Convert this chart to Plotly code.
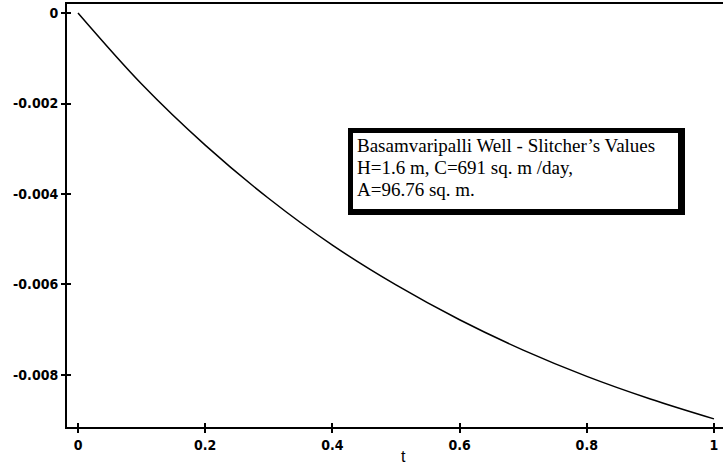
import plotly.graph_objects as go

# ---- data ----
t_values = [0.0, 0.1, 0.2, 0.3, 0.4, 0.5, 0.6, 0.7, 0.8, 0.9, 1.0]
y_values = [0.0, -0.00157, -0.00292, -0.00410, -0.00513, -0.00601,
            -0.00678, -0.00745, -0.00803, -0.00853, -0.00897]
x_ticks = [0, 0.2, 0.4, 0.6, 0.8, 1]
x_tick_labels = ["0", "0.2", "0.4", "0.6", "0.8", "1"]
y_ticks = [0, -0.002, -0.004, -0.006, -0.008]
y_tick_labels = ["0", "-0.002", "-0.004", "-0.006", "-0.008"]
box_lines = ["Basamvaripalli Well - Slitcher\u2019s Values",
             "H=1.6 m, C=691 sq. m /day,",
             "A=96.76 sq. m."]
x_title = "t"

# ---- layout geometry (pixels) ----
W, H = 723, 465
ML, MR, MT, MB = 67, 0, 4, 38
PW, PH = W - ML - MR, H - MT - MB
XR = [-0.0173, 1.0142]
YR = [-0.00915, 0.0002]

def px(x):
    return (x - ML) / PW

def py(y):
    return 1 - (y - MT) / PH

tickfont = dict(family="Liberation Sans Narrow, Arial Narrow, DejaVu Sans Condensed, sans-serif",
                size=14, color="black", weight="bold")

fig = go.Figure()
fig.add_trace(go.Scatter(x=t_values, y=y_values, mode="lines",
                         line=dict(color="black", width=1.5, shape="spline"),
                         showlegend=False, hoverinfo="skip"))
# invisible trace so the overlay axes (inside tick marks) are drawn
fig.add_trace(go.Scatter(x=[t_values[0]], y=[y_values[0]], xaxis="x2", yaxis="y2",
                         mode="markers", marker=dict(opacity=0), showlegend=False,
                         hoverinfo="skip"))

fig.update_layout(
    width=W, height=H,
    margin=dict(l=ML, r=MR, t=MT, b=MB, pad=0),
    paper_bgcolor="white", plot_bgcolor="white",
    xaxis=dict(range=XR, tickvals=x_ticks, ticktext=x_tick_labels,
               showgrid=False, zeroline=False, showline=True, linecolor="black",
               linewidth=2, mirror=True, ticks="outside", ticklen=4, tickwidth=1.5,
               tickcolor="black", tickfont=tickfont),
    yaxis=dict(range=YR, tickvals=y_ticks, ticktext=y_tick_labels,
               showgrid=False, zeroline=False, showline=True, linecolor="black",
               linewidth=2, ticks="outside", ticklen=4, tickwidth=1.5,
               tickcolor="black", tickfont=tickfont),
    xaxis2=dict(range=XR, overlaying="x", tickvals=x_ticks, showticklabels=False,
                showgrid=False, zeroline=False, showline=False, ticks="inside",
                ticklen=4, tickwidth=1.5, tickcolor="black", side="bottom",
                anchor="y2"),
    yaxis2=dict(range=YR, overlaying="y", tickvals=y_ticks, showticklabels=False,
                showgrid=False, zeroline=False, showline=False, ticks="inside",
                ticklen=4, tickwidth=1.5, tickcolor="black", side="left",
                anchor="x2"),
)

# boxed label: black outer rect + white inner rect
fig.add_shape(type="rect", xref="paper", yref="paper",
              x0=px(348), x1=px(685), y0=py(215), y1=py(128),
              fillcolor="black", line=dict(width=0), layer="above")
fig.add_shape(type="rect", xref="paper", yref="paper",
              x0=px(353), x1=px(678), y0=py(209), y1=py(133),
              fillcolor="white", line=dict(width=0), layer="above")

box_text = "<br>".join(
    '<span style="font-size:19px">' + s + "</span>" for s in box_lines)
fig.add_annotation(text=box_text, xref="paper", yref="paper", x=px(355), y=py(167),
                   xanchor="left", yanchor="middle", align="left", showarrow=False,
                   font=dict(family="Liberation Serif, Times New Roman, serif",
                             size=17, color="black"))

fig.add_annotation(text=x_title, xref="paper", yref="paper", x=px(403), y=py(456),
                   xanchor="center", yanchor="middle", showarrow=False,
                   font=dict(family="Liberation Sans, Arial, sans-serif", size=16,
                             color="black"))

fig.write_html("out.html", config={"displayModeBar": False},
               post_script="document.body.style.margin='0';")
